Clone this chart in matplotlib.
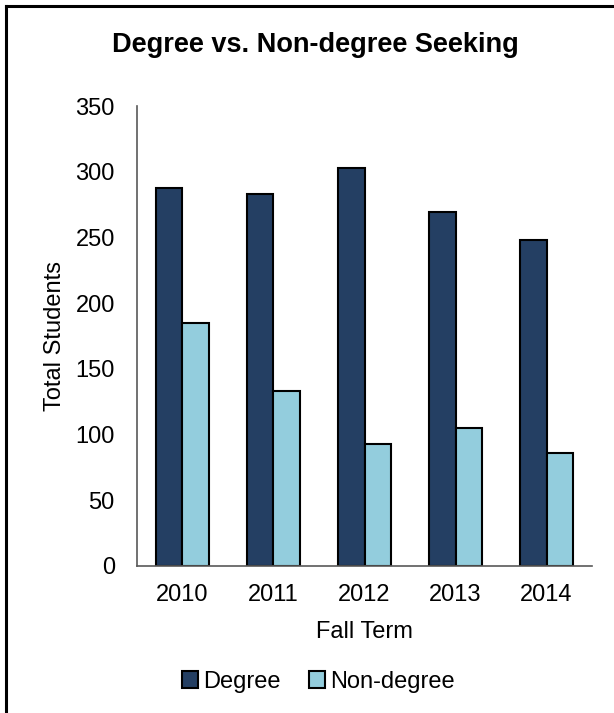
import matplotlib
matplotlib.use('Agg')
import matplotlib.pyplot as plt
import numpy as np
from matplotlib.lines import Line2D

plt.rcParams['font.family'] = ['Liberation Sans', 'DejaVu Sans']

years = ['2010', '2011', '2012', '2013', '2014']
degree = [288, 283, 303, 269, 248]
non_degree = [185, 133, 93, 105, 86]

fig = plt.figure(figsize=(6.14, 7.13), dpi=100)
ax = fig.add_axes([0.2231, 0.2062, 0.7411, 0.6451])

x = np.arange(len(years))
w = 0.286
ax.bar(x - w / 2, degree, w, color='#243F63', edgecolor='black', linewidth=1.5, label='Degree')
ax.bar(x + w / 2, non_degree, w, color='#93CDDD', edgecolor='black', linewidth=1.5, label='Non-degree')

ax.set_xlim(-0.5, len(years) - 0.5)
ax.set_ylim(0, 350)
ax.set_yticks(range(0, 351, 50))
ax.set_xticks(x)
ax.set_xticklabels(years)
ax.tick_params(axis='both', length=0, labelsize=17)
ax.tick_params(axis='y', pad=16)
ax.tick_params(axis='x', pad=13)

for s in ['top', 'right']:
    ax.spines[s].set_visible(False)
for s in ['left', 'bottom']:
    ax.spines[s].set_color('#595959')
    ax.spines[s].set_linewidth(1.2)

ax.set_ylabel('Total Students', fontsize=17, labelpad=7)
ax.set_xlabel('Fall Term', fontsize=17, labelpad=11)
fig.text(0.513, 0.937, 'Degree vs. Non-degree Seeking', fontsize=19.5, fontweight='bold',
         ha='center', va='center')

fig.legend(loc='center', bbox_to_anchor=(0.518, 0.044), ncol=2, frameon=False, fontsize=17,
           handlelength=0.7, handleheight=0.7, handletextpad=0.2, columnspacing=1.2)

# frame around the chart (left and top visible)
fig.add_artist(Line2D([0.0098, 0.0098], [0, 0.9916], transform=fig.transFigure, color='black', linewidth=2.2))
fig.add_artist(Line2D([0.0098, 1.0], [0.9916, 0.9916], transform=fig.transFigure, color='black', linewidth=2.2))

fig.savefig('out.png', dpi=100)
